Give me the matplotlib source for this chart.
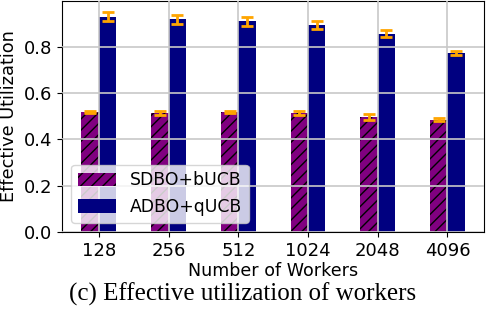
import numpy as np
import matplotlib
matplotlib.use('Agg')
import matplotlib.pyplot as plt

workers = ['128', '256', '512', '1024', '2048', '4096']
sdbo_mean = [0.518, 0.514, 0.518, 0.513, 0.497, 0.484]
sdbo_err = [0.005, 0.007, 0.004, 0.009, 0.014, 0.007]
adbo_mean = [0.930, 0.918, 0.910, 0.893, 0.855, 0.773]
adbo_err = [0.020, 0.018, 0.019, 0.018, 0.015, 0.009]

plt.rcParams['font.family'] = 'DejaVu Sans'
plt.rcParams['hatch.color'] = 'black'
plt.rcParams['hatch.linewidth'] = 1.0

fig = plt.figure(figsize=(4.86, 3.16), dpi=100)
ax = fig.add_axes([0.128, 0.266, 0.868, 0.731])

x = np.arange(len(workers))
w = 0.25
err_kw = dict(ecolor='orange', capsize=4, elinewidth=2, capthick=2)

ax.bar(x - w / 2, sdbo_mean, w, yerr=sdbo_err, color='purple', hatch='///',
       edgecolor='black', linewidth=0, label='SDBO+bUCB', error_kw=err_kw)
ax.bar(x + w / 2, adbo_mean, w, yerr=adbo_err, color='navy',
       label='ADBO+qUCB', error_kw=err_kw)

ax.set_xticks(x)
ax.set_xticklabels(workers, fontsize=13)
ax.tick_params(axis='y', labelsize=13)
ax.set_xlabel('Number of Workers', fontsize=12.6, labelpad=2)
ax.set_ylabel('Effective Utilization', fontsize=12.8)
ax.grid(True, color='#c8c8c8', linewidth=1.2)
ax.set_axisbelow(False)
ax.legend(loc='lower left', fontsize=12.4, bbox_to_anchor=(0.021, 0.039),
          borderaxespad=0, handlelength=2.2, handleheight=0.8)

fig.text(0.5, 0.07, '(c) Effective utilization of workers', ha='center',
         va='center', family='Liberation Serif', fontsize=18)

fig.savefig('out.png', dpi=100)
